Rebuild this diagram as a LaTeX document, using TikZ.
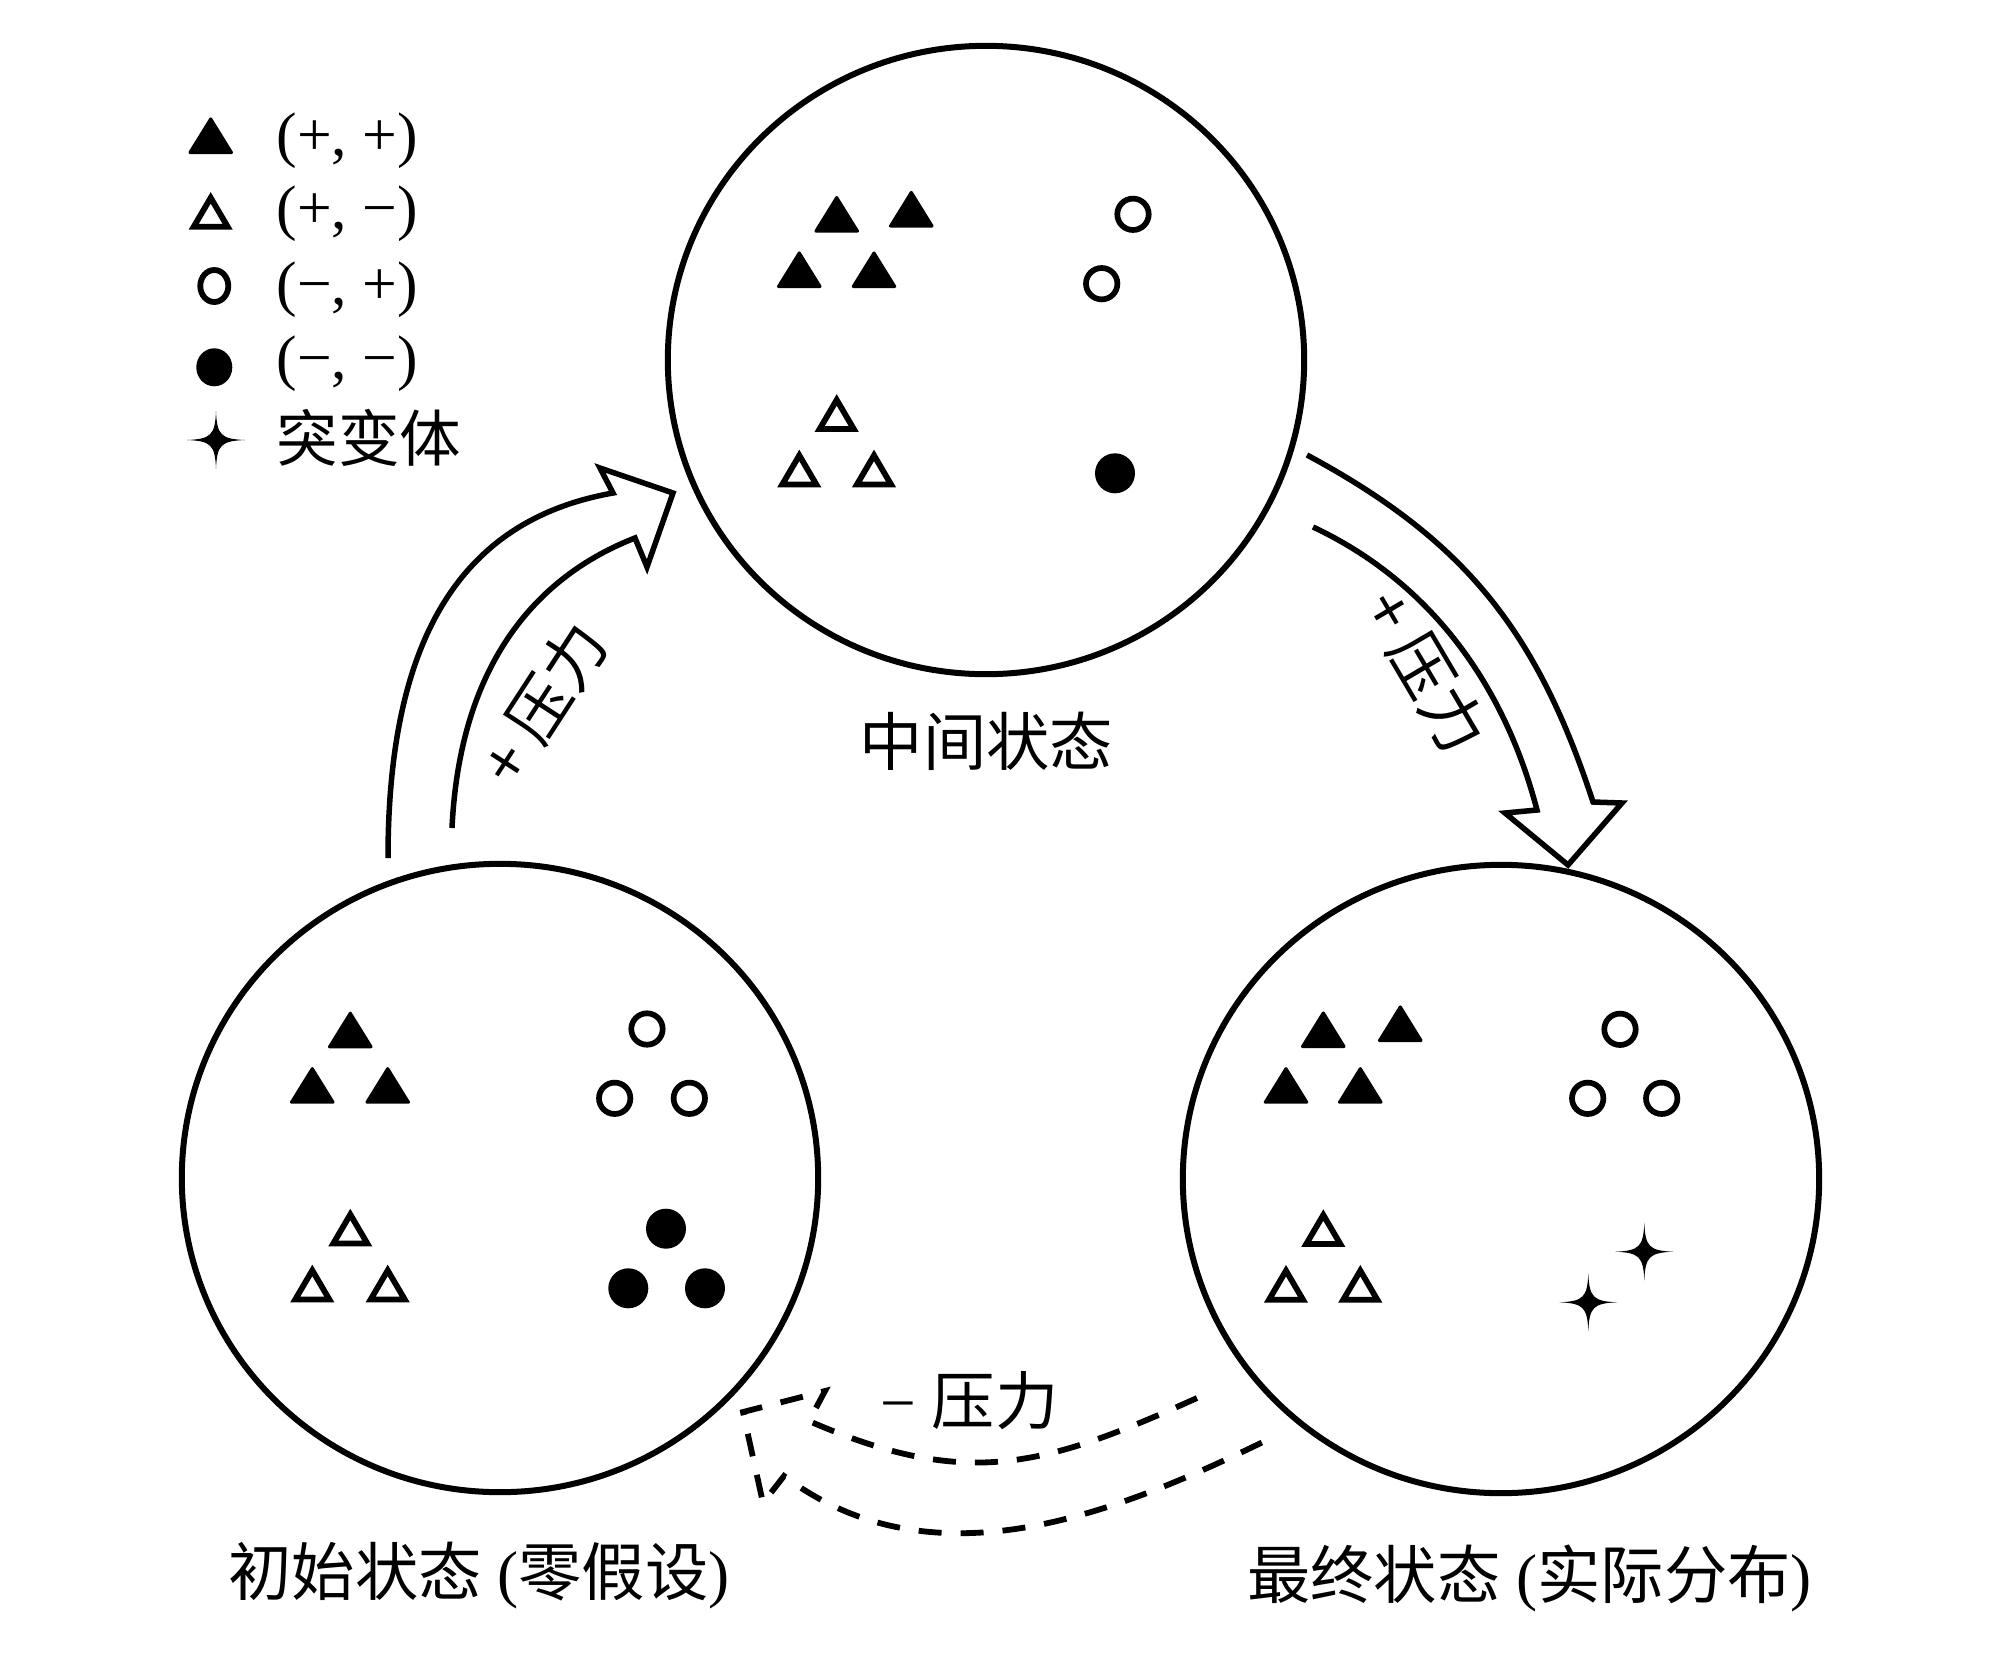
\documentclass[tikz,border=0pt]{standalone}
\usepackage{fontspec}
\usetikzlibrary{shapes.geometric}
\setmainfont{Liberation Serif}
\newfontfamily\song{Noto Sans CJK SC}
\begin{document}
\begin{tikzpicture}[
  x=0.01cm, y=-0.01cm,
  state/.style={draw, ellipse, line width=0.06cm, minimum width=6.36cm, minimum height=6.28cm, inner sep=0pt},
  ftri/.pic={\filldraw[line width=0.03cm, line join=round] (-20.8,16.8)--(20.8,16.8)--(0,-16.8)--cycle;},
  otri/.pic={\draw[line width=0.058cm, line join=miter] (-17,16)--(17,16)--(0,-13)--cycle;},
  ocirc/.pic={\draw[line width=0.057cm] (0,0) circle[radius=15.7];},
  fcirc/.pic={\fill (0,0) circle[radius=20];},
  mutant/.pic={\fill (0,-29) .. controls (1,-5) and (5,-1) .. (29,0) .. controls (5,1) and (1,5) .. (0,29) .. controls (-1,5) and (-5,1) .. (-29,0) .. controls (-5,-1) and (-1,-5) .. cycle;},
  hollow/.style={line width=0.055cm, line join=miter},
  dasharrow/.style={line width=0.058cm, dash pattern=on 0.23cm off 0.19cm},
  lbl/.style={inner sep=0pt, font=\fontsize{18pt}{20pt}\selectfont},
  leg/.style={inner sep=0pt, anchor=west, font=\fontsize{17.5pt}{20pt}\selectfont},
]
\useasboundingbox (0,0) rectangle (2008,1654);

% state circles
\node[state] (mid) at (986,360) {};
\node[state] (init) at (500,1178) {};
\node[state] (final) at (1501,1179) {};

% contents: intermediate state
\foreach \p in {(836.7,214.3),(911.3,209.2),(799.3,269.7),(874,269.7)} \pic at \p {ftri};
\foreach \p in {(1133,214.3),(1101.7,283.7)} \pic at \p {ocirc};
\foreach \p in {(836.7,412.9),(799.3,468.4),(874,468.4)} \pic at \p {otri};
\pic at (1115,473.3) {fcirc};

% contents: initial state
\foreach \p in {(350.3,1030),(312.3,1085.4),(387.7,1085.4)} \pic at \p {ftri};
\foreach \p in {(647,1029),(614.7,1098.3),(689.3,1098.3)} \pic at \p {ocirc};
\foreach \p in {(350.3,1227.5),(312.3,1283.4),(387.7,1283.4)} \pic at \p {otri};
\foreach \p in {(666,1228.7),(628.3,1288.3),(705,1288.3)} \pic at \p {fcirc};

% contents: final state
\foreach \p in {(1323.3,1029.7),(1400.3,1023.7),(1286,1085.4),(1360.3,1085.4)} \pic at \p {ftri};
\foreach \p in {(1620,1029.3),(1587.7,1098.3),(1661.7,1098.3)} \pic at \p {ocirc};
\foreach \p in {(1323.3,1228),(1286,1283.7),(1360.3,1283.7)} \pic at \p {otri};
\foreach \p in {(1644.3,1251.7),(1588.3,1302.3)} \pic at \p {mutant};

% legend
\pic at (210.7,135.7) {ftri};
\pic at (210.7,210.8) {otri};
\draw[line width=0.058cm] (214.3,286) ellipse [x radius=14, y radius=16];
\fill (214.3,367.3) ellipse [x radius=18, y radius=19];
\pic at (216,440) {mutant};
\node[leg] (l1) at (276,140.7) {(+, +)};
\node[leg] (l2) at (276,214) {(+, −)};
\node[leg] (l3) at (276,290) {(−, +)};
\node[leg] (l4) at (276,364) {(−, −)};
\node[leg] (l5) at (276,438) {\song 突变体};

% hollow arrows
\draw[hollow] (388,858) .. controls (388,640) and (460,520) .. (613,493) -- (600,468) -- (673,493) -- (647,567) -- (635,538) .. controls (540,575) and (460,660) .. (452,828);
\draw[hollow] (1307,455) .. controls (1465,540) and (1537,631) .. (1593,802) -- (1622,803) -- (1568,865) -- (1505,813) -- (1537,810) .. controls (1504,684) and (1430,582) .. (1313,527);
\draw[dasharrow] (1197,1398) .. controls (1042,1468) and (965,1489) .. (809,1421) -- (825,1391) -- (743,1412) -- (763,1503) -- (784,1476) .. controls (928,1584) and (1103,1520) .. (1265,1441);

% labels
\node[lbl, rotate=57] (lp) at (543,703.5) {\song + 压力};
\node[lbl, rotate=-59.5] (rp) at (1426,671) {\song + 压力};
\node[lbl] (bp) at (969.5,1401) {− {\song 压力}};
\node[lbl] (ml) at (986.5,741) {\song 中间状态};
\node[lbl] (il) at (479,1576) {{\song 初始状态} ({\song 零假设})};
\node[lbl] (fl) at (1529.5,1578) {{\song 最终状态} ({\song 实际分布})};
\end{tikzpicture}
\end{document}
